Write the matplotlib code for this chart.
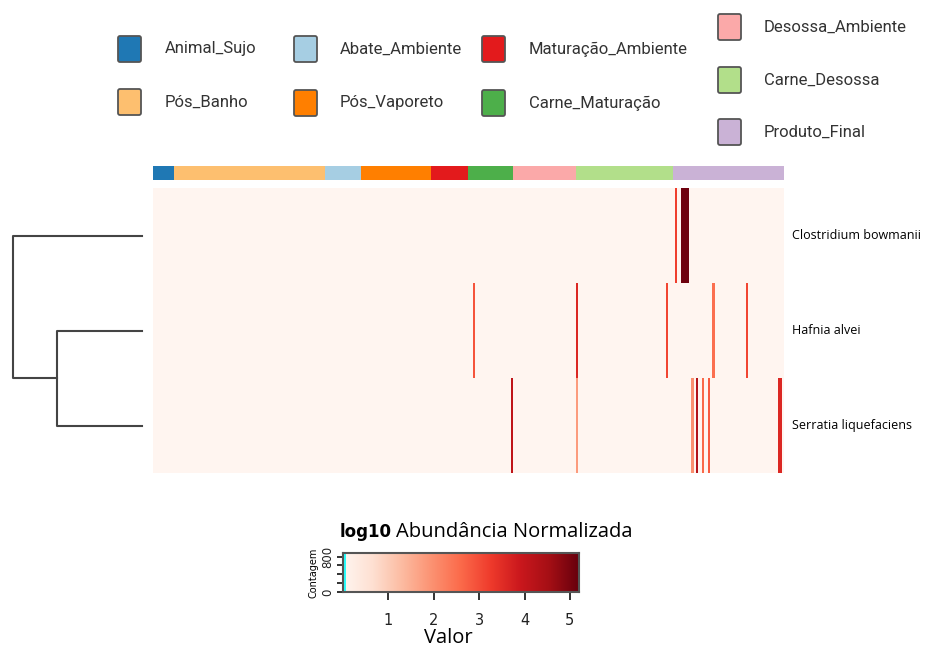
import numpy as np
import matplotlib
matplotlib.use("Agg")
import matplotlib.pyplot as plt
from matplotlib.colors import ListedColormap
from matplotlib.patches import FancyBboxPatch

# sample groups (column annotation)
groups = ["Animal_Sujo", "Pós_Banho", "Abate_Ambiente", "Pós_Vaporeto",
          "Maturação_Ambiente", "Carne_Maturação", "Desossa_Ambiente",
          "Carne_Desossa", "Produto_Final"]
group_colors = ["#1F78B4", "#FDBF6F", "#A6CEE3", "#FF7F00", "#E31A1C",
                "#4DAF4A", "#FBA9A9", "#B2DF8A", "#CAB2D6"]
group_sizes = [10, 72, 17, 33, 18, 21, 30, 46, 53]

species = ["Clostridium bowmanii", "Hafnia alvei", "Serratia liquefaciens"]

# non-zero log10 abundances (sample index, value)
clostridium_idx = [248, 251, 252, 253, 254]
clostridium_val = [3.2, 5.1, 5.1, 5.1, 5.1]
hafnia_idx = [152, 201, 244, 266, 282]
hafnia_val = [2.9, 3.6, 3.1, 2.5, 3.1]
serratia_idx = [170, 201, 256, 258, 261, 264, 297, 298]
serratia_val = [4.1, 1.8, 2.0, 4.3, 2.6, 2.8, 3.6, 3.6]

# dendrogram merge heights
merge_hafnia_serratia = 0.66
merge_root = 1.0

vmax = 5.2
n_samples = sum(group_sizes)
mat = np.zeros((3, n_samples))
mat[0, clostridium_idx] = clostridium_val
mat[1, hafnia_idx] = hafnia_val
mat[2, serratia_idx] = serratia_val

W, H = 925, 648
fig = plt.figure(figsize=(9.25, 6.48), dpi=100)


def px_axes(x0, y0, x1, y1):
    return fig.add_axes([x0 / W, 1 - y1 / H, (x1 - x0) / W, (y1 - y0) / H])


# legend (drawn in pixel coords)
lg = fig.add_axes([0, 0, 1, 1])
lg.set_xlim(0, W)
lg.set_ylim(H, 0)
lg.axis("off")
legend_pos = [(118, 49), (118, 102), (294, 49), (294, 103), (482, 49),
              (482, 103), (718, 27), (718, 80), (718, 132)]
text_x = [165, 165, 340, 340, 529, 529, 764, 764, 764]
for name, col, (x, y), tx in zip(groups, group_colors, legend_pos, text_x):
    lg.add_patch(FancyBboxPatch((x, y - 13), 23, 26,
                                boxstyle="round,pad=0,rounding_size=2",
                                fc=col, ec="#555555", lw=1.3))
    lg.text(tx, y, name, fontsize=12, family="Roboto", color="#333333",
            ha="left", va="center")

# column colour strip
ax_s = px_axes(153, 166, 784, 180)
strip = np.repeat(np.arange(len(groups)), group_sizes)[None, :]
ax_s.imshow(strip, aspect="auto", cmap=ListedColormap(group_colors),
            interpolation="nearest", vmin=-0.5, vmax=len(groups) - 0.5)
ax_s.axis("off")

# heatmap
ax_h = px_axes(153, 188, 784, 473)
ax_h.imshow(mat, aspect="auto", cmap="Reds", vmin=0, vmax=vmax,
            interpolation="nearest")
ax_h.set_xticks([])
ax_h.set_yticks([])
for s in ax_h.spines.values():
    s.set_visible(False)
for i, sp in enumerate(species):
    ax_h.text(1.013, 1 - (i + 0.5) / 3, sp, transform=ax_h.transAxes,
              fontsize=9, family="Open Sans", ha="left", va="center")

# row dendrogram
ax_d = px_axes(13, 188, 142, 473)
lc = "#444444"
lw = 1.5
h1, h2 = merge_hafnia_serratia, merge_root
ax_d.plot([0, h1, h1, 0], [1, 1, 2, 2], color=lc, lw=lw, clip_on=False)
ax_d.plot([0, h2, h2, h1], [0, 0, 1.5, 1.5], color=lc, lw=lw, clip_on=False)
ax_d.set_xlim(merge_root, 0)
ax_d.set_ylim(2.5, -0.5)
ax_d.axis("off")

# colour key with histogram
counts, edges = np.histogram(mat.ravel(), bins=100, range=(0, vmax))
ax_k = px_axes(343, 553, 579, 592)
ax_k.imshow(np.linspace(0, vmax, 256)[None, :], aspect="auto", cmap="Reds",
            extent=[0, vmax, 0, counts.max()], vmin=0, vmax=vmax)
ax_k.stairs(counts, edges, color="cyan", lw=1.2)
ax_k.set_xlim(0, vmax)
ax_k.set_ylim(0, counts.max())
ax_k.set_xticks([1, 2, 3, 4, 5])
ax_k.set_yticks([0, 200, 400, 600, 800])
ax_k.set_yticklabels(["0", "", "", "", "800"], rotation=90, va="center")
ax_k.tick_params(axis="x", labelsize=10.5, length=6, width=1.3, pad=9,
                 colors="#222222")
ax_k.tick_params(axis="y", labelsize=8.5, length=4, width=1.3, pad=2,
                 colors="#222222")
for s in ax_k.spines.values():
    s.set_color("#555555")
    s.set_linewidth(1.5)
ax_k.set_ylabel("Contagem", fontsize=7, labelpad=2)
fig.text(448 / W, 1 - 638 / H, "Valor", fontsize=14.5, family="Open Sans",
         ha="center", va="center")

fig.text(340 / W, 1 - 532 / H, "log10", fontsize=12, fontweight="bold",
         ha="left", va="center")
fig.text(396 / W, 1 - 532 / H, "Abundância Normalizada", fontsize=14.5,
         family="Open Sans", ha="left", va="center")

fig.savefig("out.png", dpi=100)
